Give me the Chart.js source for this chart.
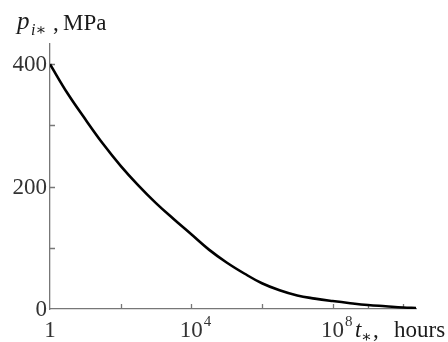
<!DOCTYPE html>
<html>
<head>
<meta charset="utf-8">
<script src="https://cdn.jsdelivr.net/npm/chart.js@4/dist/chart.umd.min.js"></script>
<style>
  html, body { margin: 0; padding: 0; background: #fff; }
  #wrap { width: 448px; height: 342px; }
</style>
</head>
<body>
<div id="wrap"><canvas id="myChart" width="448" height="342"></canvas></div>
<script>
// time t*, hours (log axis) and pressure p_i*, MPa
const hours = [1, 3.16, 10, 31.6, 100, 316, 1e3, 3.16e3, 1e4, 3.16e4, 1e5, 3.16e5,
               1e6, 3.16e6, 1e7, 3.16e7, 1e8, 3.16e8, 1e9, 3.16e9, 1e10, 2.3e10];
const pressure = [400, 352, 310, 270, 234, 202, 173, 147, 122, 97, 76, 58,
                  42, 30.5, 22, 17, 13, 9.5, 6.5, 4.5, 2.5, 1.5];

const xTicks = [1e2, 1e4, 1e6, 1e8, 1e9, 1e10];
const xLabels = [[1, '1', ''], [1e4, '10', '4'], [1e8, '10', '8']];
const yTicks = [100, 200, 300, 400];
const yLabels = [0, 200, 400];

const axisColor = '#777';
const textColor = '#333';
const serif = '"Liberation Serif", "DejaVu Serif", serif';

const points = hours.map((h, i) => ({ x: h, y: pressure[i] }));

const axisDecor = {
    id: 'axisDecor',
    beforeDatasetsDraw(chart) {
        const ctx = chart.ctx;
        const xs = chart.scales.x, ys = chart.scales.y;
        const area = chart.chartArea;
        ctx.save();
        ctx.strokeStyle = axisColor;
        ctx.lineWidth = 1.3;
        ctx.beginPath();
        xTicks.forEach(v => {
            const px = Math.round(xs.getPixelForValue(v)) + 0.5;
            ctx.moveTo(px, area.bottom);
            ctx.lineTo(px, area.bottom - 5);
        });
        yTicks.forEach(v => {
            const py = Math.round(ys.getPixelForValue(v)) + 0.5;
            ctx.moveTo(area.left, py);
            ctx.lineTo(area.left + 5, py);
        });
        ctx.stroke();
        ctx.restore();
    },
    afterDraw(chart) {
        const ctx = chart.ctx;
        const xs = chart.scales.x, ys = chart.scales.y;
        const area = chart.chartArea;
        ctx.save();
        ctx.fillStyle = textColor;

        // y tick labels
        ctx.font = '23px ' + serif;
        ctx.textAlign = 'right';
        ctx.textBaseline = 'middle';
        yLabels.forEach(v => {
            ctx.fillText(String(v), area.left - 3, ys.getPixelForValue(v) + 1);
        });

        // x tick labels with superscript exponents
        ctx.textBaseline = 'alphabetic';
        xLabels.forEach(([v, base, exp]) => {
            const px = xs.getPixelForValue(v);
            ctx.font = '23px ' + serif;
            ctx.textAlign = 'center';
            ctx.fillText(base, px, 337);
            if (exp) {
                const w = ctx.measureText(base).width;
                ctx.font = '15px ' + serif;
                ctx.textAlign = 'left';
                ctx.fillText(exp, px + w / 2 + 1, 326);
            }
        });

        // y axis title: p_{i*}, MPa
        ctx.fillStyle = '#1a1a1a';
        ctx.textAlign = 'left';
        ctx.font = 'italic 25px ' + serif;
        ctx.fillText('p', 17, 29);
        ctx.font = 'italic 16px ' + serif;
        ctx.fillText('i\u2217', 31, 35);
        ctx.font = '23px ' + serif;
        ctx.fillText(',', 53, 30);
        ctx.fillText('MPa', 63, 30);

        // x axis title: t_*, hours
        ctx.font = 'italic 23px ' + serif;
        ctx.fillText('t', 355, 337);
        ctx.font = 'italic 16px ' + serif;
        ctx.fillText('\u2217', 361, 342);
        ctx.font = '23px ' + serif;
        ctx.fillText(',', 373, 337);
        ctx.fillText('hours', 394, 337);
        ctx.restore();
    }
};

const config = {
    type: 'line',
    data: {
        datasets: [{
            data: points,
            borderColor: '#000',
            borderWidth: 2.6,
            pointRadius: 0,
            fill: false,
            tension: 0.4
        }]
    },
    options: {
        responsive: false,
        animation: false,
        events: [],
        layout: { padding: { left: 50, right: 32, top: 44, bottom: 33 } },
        plugins: { legend: { display: false }, tooltip: { enabled: false } },
        scales: {
            x: {
                type: 'logarithmic',
                min: 1,
                max: 2.3e10,
                grid: { drawOnChartArea: false, drawTicks: false },
                ticks: { display: false },
                border: { color: axisColor, width: 1.3 },
                afterFit: s => { s.height = 0; }
            },
            y: {
                type: 'linear',
                min: 0,
                max: 433,
                grid: { drawOnChartArea: false, drawTicks: false },
                ticks: { display: false },
                border: { color: axisColor, width: 1.3 },
                afterFit: s => { s.width = 0; }
            }
        }
    },
    plugins: [axisDecor]
};

const myChart = new Chart(document.getElementById('myChart'), config);
</script>
</body>
</html>
